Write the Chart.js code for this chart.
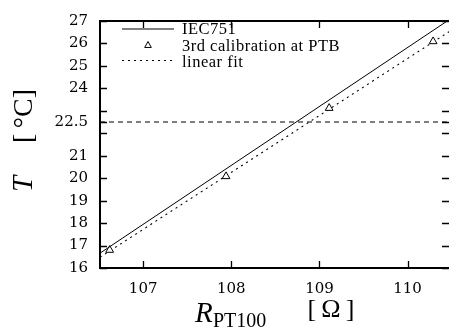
<!DOCTYPE html>
<html><head><meta charset="utf-8">
<script src="https://cdn.jsdelivr.net/npm/chart.js@4"></script>
<style>html,body{margin:0;padding:0;background:#fff}</style>
</head><body>
<canvas id="c" width="449" height="336"></canvas>
<script>
// ---- data ----
const calibR = [106.62, 107.94, 109.11, 110.29];
const calibT = [16.80, 20.08, 23.12, 26.09];
const iecR = [106.51, 110.45];
const iecT = [16.66, 27.0];
const fitR = [106.51, 110.47];
const fitT = [16.48, 26.52];
const refR = [106.51, 110.47];
const refT = [22.5, 22.5];
const xTickValues = [107, 108, 109, 110];
const yTickValues = [16, 17, 18, 19, 20, 21, 22, 22.5, 23, 24, 25, 26, 27];
const yTickLabels = ['16', '17', '18', '19', '20', '21', '', '22.5', '', '24', '25', '26', '27'];
const legendLabels = ['IEC751', '3rd calibration at PTB', 'linear fit'];

const toXY = (xs, ys) => xs.map((x, i) => ({x, y: ys[i]}));

const framePlugin = {
  id: 'frame',
  afterDraw(chart) {
    const {ctx, chartArea: a, scales: {x, y}} = chart;
    ctx.save();
    ctx.strokeStyle = '#000';
    // frame
    ctx.lineWidth = 2;
    ctx.beginPath();
    ctx.moveTo(a.right + 2, a.top); ctx.lineTo(a.left, a.top);
    ctx.lineTo(a.left, a.bottom); ctx.lineTo(a.right + 2, a.bottom);
    ctx.stroke();
    // inward ticks
    ctx.lineWidth = 1.3;
    const tl = 7;
    ctx.beginPath();
    yTickValues.forEach(v => {
      const py = Math.round(y.getPixelForValue(v)) + 0.5;
      ctx.moveTo(a.left, py); ctx.lineTo(a.left + tl, py);
      ctx.moveTo(a.right, py); ctx.lineTo(a.right - tl, py);
    });
    xTickValues.forEach(v => {
      const px = Math.round(x.getPixelForValue(v)) + 0.5;
      ctx.moveTo(px, a.bottom); ctx.lineTo(px, a.bottom - tl);
      ctx.moveTo(px, a.top); ctx.lineTo(px, a.top + tl);
    });
    ctx.stroke();

    // legend
    const ds = chart.data.datasets;
    const rows = [28.5, 45, 60];
    const x0 = 122, x1 = 174, tx = 182;
    ctx.fillStyle = '#000';
    ctx.font = '16.5px "Liberation Serif"';
    ctx.letterSpacing = '0.5px';
    ctx.textBaseline = 'alphabetic';
    ctx.textAlign = 'left';
    ctx.lineWidth = 1;
    ctx.setLineDash([]);
    ctx.beginPath(); ctx.moveTo(x0, rows[0] + 0.5); ctx.lineTo(x1, rows[0] + 0.5); ctx.stroke();
    ctx.fillText(legendLabels[0], tx, rows[0] + 5.5);
    const r = 3.5, cx = 148, cy = rows[1];
    ctx.beginPath();
    ctx.moveTo(cx, cy - r);
    ctx.lineTo(cx + r * 0.95, cy + r * 0.7);
    ctx.lineTo(cx - r * 0.95, cy + r * 0.7);
    ctx.closePath();
    ctx.fillStyle = '#fff'; ctx.fill(); ctx.stroke();
    ctx.fillStyle = '#000';
    ctx.fillText(legendLabels[1], tx, rows[1] + 6);
    ctx.setLineDash(ds[2].borderDash);
    ctx.beginPath(); ctx.moveTo(x0, rows[2] + 0.5); ctx.lineTo(x1, rows[2] + 0.5); ctx.stroke();
    ctx.setLineDash([]);
    ctx.fillText(legendLabels[2], tx, rows[2] + 7);
    ctx.letterSpacing = '0px';

    // y title (rotated)
    ctx.save();
    ctx.translate(32, 0);
    ctx.rotate(-Math.PI / 2);
    ctx.textAlign = 'center';
    ctx.font = 'italic 29px "Liberation Serif"';
    ctx.fillText('T', -184, 0);
    ctx.font = '28px "Liberation Serif"';
    ctx.fillText('[\u2009\u00B0C]', -116, 0);
    ctx.restore();
    // x title
    ctx.textAlign = 'left';
    ctx.font = 'italic 29px "Liberation Serif"';
    ctx.fillText('R', 195, 322);
    ctx.font = '20px "Liberation Serif"';
    ctx.fillText('PT100', 213, 327);
    ctx.font = '26px "Liberation Serif"';
    ctx.textAlign = 'center';
    ctx.fillText('[\u2009\u03A9\u2009]', 331, 317);
    ctx.restore();
  }
};

new Chart(document.getElementById('c'), {
  type: 'line',
  data: {
    datasets: [
      {label: legendLabels[0], data: toXY(iecR, iecT), borderColor: '#000', borderWidth: 1, pointRadius: 0, fill: false},
      {label: legendLabels[1], data: toXY(calibR, calibT), showLine: false, pointStyle: 'triangle', pointRadius: 4.5,
       pointBorderColor: '#000', pointBackgroundColor: '#fff', pointBorderWidth: 1, borderColor: '#000', backgroundColor: '#fff'},
      {label: legendLabels[2], data: toXY(fitR, fitT), borderColor: '#000', borderWidth: 1.1, borderDash: [2, 4], pointRadius: 0, fill: false},
      {label: 'ref', data: toXY(refR, refT), borderColor: '#000', borderWidth: 1.1, borderDash: [5, 4], pointRadius: 0, fill: false}
    ]
  },
  options: {
    responsive: false,
    animation: false,
    devicePixelRatio: 1,
    layout: {autoPadding: false, padding: {top: 11, right: 0, left: 0, bottom: 0}},
    plugins: {legend: {display: false}, tooltip: {enabled: false}},
    scales: {
      x: {
        type: 'linear', min: 106.51, max: 110.47,
        afterBuildTicks: s => { s.ticks = xTickValues.map(v => ({value: v})); },
        afterFit: s => { s.height = 68; },
        grid: {display: false, drawTicks: false},
        border: {display: false},
        ticks: {color: '#000', padding: 12, font: {family: '"DejaVu Serif"', size: 15}, maxRotation: 0,
                callback: v => String(v)}
      },
      y: {
        type: 'linear', min: 16, max: 27,
        afterBuildTicks: s => { s.ticks = yTickValues.map(v => ({value: v})); },
        afterFit: s => { s.width = 100; },
        grid: {display: false, drawTicks: false},
        border: {display: false},
        ticks: {color: '#000', padding: 12, font: {family: '"DejaVu Serif"', size: 15}, autoSkip: false,
                callback: (v, i) => yTickLabels[i]}
      }
    }
  },
  plugins: [framePlugin]
});
</script>
</body></html>
